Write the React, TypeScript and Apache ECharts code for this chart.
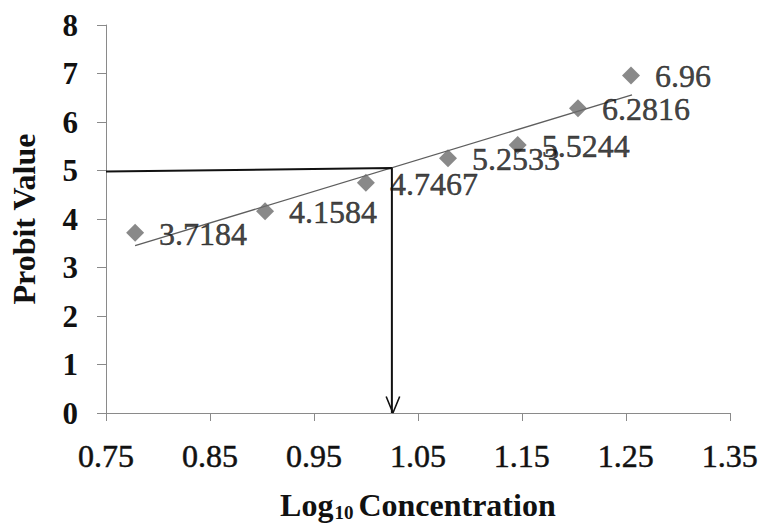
import React, { useEffect, useRef } from "react";
import * as echarts from "echarts";

const logConc = [0.778, 0.903, 1.0, 1.079, 1.146, 1.204, 1.255];
const probit = [3.7184, 4.1584, 4.7467, 5.2533, 5.5244, 6.2816, 6.96];
const probitLabels = ["3.7184", "4.1584", "4.7467", "5.2533", "5.5244", "6.2816", "6.96"];
const trendX = [0.778, 1.256];
const trendY = [3.45, 6.56];
const guideX = [0.75, 1.025, 1.025];
const guideY = [4.98, 5.05, 0];
const arrowX = [1.0195, 1.026, 1.0325];
const arrowY = [0.34, 0, 0.34];
const xMin = 0.75;
const xMax = 1.35;
const xStep = 0.1;
const yMin = 0;
const yMax = 8;
const yStep = 1;

const FONT = "'Liberation Serif', 'Times New Roman', serif";

export default function App() {
  const ref = useRef<HTMLDivElement>(null);
  useEffect(() => {
    if (!ref.current) return;
    const chart = echarts.init(ref.current, undefined, { renderer: "svg" });
    const zip = (xs: number[], ys: number[]) => xs.map((x, i) => [x, ys[i]]);
    chart.setOption({
      animation: false,
      backgroundColor: "#ffffff",
      grid: { left: 105, right: 31, top: 25, bottom: 105 },
      xAxis: {
        type: "value",
        min: xMin,
        max: xMax,
        interval: xStep,
        splitLine: { show: false },
        axisLine: { show: true, lineStyle: { color: "#8a8a8a", width: 1 } },
        axisTick: { show: true, length: 8, lineStyle: { color: "#8a8a8a" } },
        axisLabel: {
          margin: 27,
          color: "#111",
          fontFamily: FONT,
          fontSize: 32,
          textBorderColor: "#111",
          textBorderWidth: 0.5,
          formatter: (v: number) => v.toFixed(2),
        },
        name: "{a|Log}{s|10}{a|Concentration}",
        nameLocation: "middle",
        nameGap: 74,
        nameTextStyle: {
          rich: {
            a: { fontFamily: FONT, fontSize: 32, fontWeight: "bold", color: "#111" },
            s: {
              fontFamily: FONT,
              fontSize: 19,
              fontWeight: "bold",
              color: "#111",
              verticalAlign: "bottom",
              padding: [16, 5, 0, 1],
            },
          },
        },
      },
      yAxis: {
        type: "value",
        min: yMin,
        max: yMax,
        interval: yStep,
        splitLine: { show: false },
        axisLine: { show: true, lineStyle: { color: "#8a8a8a", width: 1 } },
        axisTick: { show: true, length: 9, lineStyle: { color: "#8a8a8a" } },
        axisLabel: {
          margin: 28,
          color: "#111",
          fontFamily: FONT,
          fontSize: 31,
          fontWeight: "bold",
        },
        name: "Probit Value",
        nameLocation: "middle",
        nameGap: 66,
        nameTextStyle: { fontFamily: FONT, fontSize: 32, fontWeight: "bold", color: "#111" },
      },
      series: [
        {
          type: "line",
          data: zip(trendX, trendY),
          symbol: "none",
          lineStyle: { color: "#5e5e5e", width: 1.3 },
          z: 2,
        },
        {
          type: "line",
          data: zip(guideX, guideY),
          symbol: "none",
          lineStyle: { color: "#111", width: 2 },
          z: 3,
        },
        {
          type: "line",
          data: zip(arrowX, arrowY),
          symbol: "none",
          lineStyle: { color: "#111", width: 1.6 },
          z: 3,
        },
        {
          type: "scatter",
          data: zip(logConc, probit),
          symbol: "diamond",
          symbolSize: 18,
          itemStyle: { color: "#6b6b6b" },
          z: 4,
          label: {
            show: true,
            position: "right",
            distance: 15,
            offset: [0, 1],
            color: "#111",
            fontFamily: FONT,
            fontSize: 32,
            textBorderColor: "#111",
            textBorderWidth: 0.5,
            formatter: (p: any) => probitLabels[p.dataIndex],
          },
        },
      ],
    });
    return () => chart.dispose();
  }, []);
  return <div ref={ref} style={{ width: 761, height: 527, position: "absolute", left: 0, top: 0 }} />;
}
